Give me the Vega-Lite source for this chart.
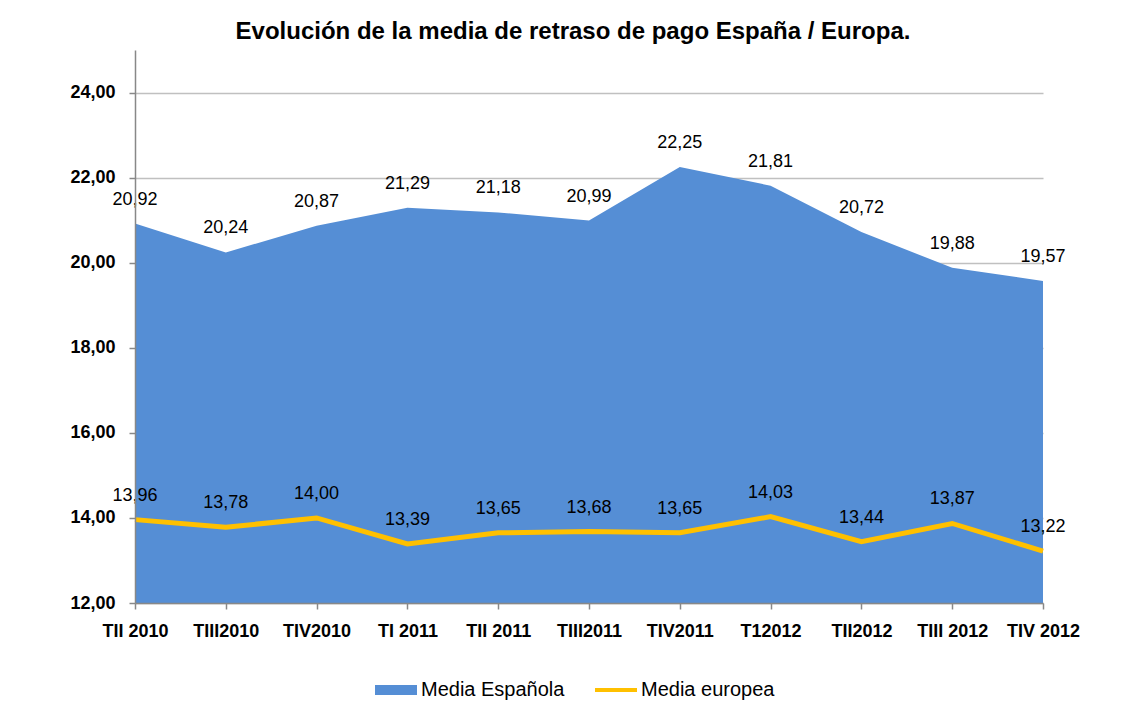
{
  "$schema": "https://vega.github.io/schema/vega-lite/v6.json",
  "autosize": {"type": "none"},
  "padding": {"left": 135, "top": 50, "right": 79, "bottom": 101},
  "width": 908,
  "height": 553,
  "background": "white",
  "title": {
    "text": "Evolución de la media de retraso de pago España / Europa.",
    "font": "Liberation Sans",
    "fontSize": 24,
    "fontWeight": "bold",
    "color": "black",
    "offset": 6,
    "dx": -16
  },
  "data": {
    "values": [
      {"trimestre": "TII 2010", "serie": "Media Española", "valor": 20.92},
      {"trimestre": "TIII2010", "serie": "Media Española", "valor": 20.24},
      {"trimestre": "TIV2010", "serie": "Media Española", "valor": 20.87},
      {"trimestre": "TI 2011", "serie": "Media Española", "valor": 21.29},
      {"trimestre": "TII 2011", "serie": "Media Española", "valor": 21.18},
      {"trimestre": "TIII2011", "serie": "Media Española", "valor": 20.99},
      {"trimestre": "TIV2011", "serie": "Media Española", "valor": 22.25},
      {"trimestre": "T12012", "serie": "Media Española", "valor": 21.81},
      {"trimestre": "TII2012", "serie": "Media Española", "valor": 20.72},
      {"trimestre": "TIII 2012", "serie": "Media Española", "valor": 19.88},
      {"trimestre": "TIV 2012", "serie": "Media Española", "valor": 19.57},
      {"trimestre": "TII 2010", "serie": "Media europea", "valor": 13.96},
      {"trimestre": "TIII2010", "serie": "Media europea", "valor": 13.78},
      {"trimestre": "TIV2010", "serie": "Media europea", "valor": 14.00},
      {"trimestre": "TI 2011", "serie": "Media europea", "valor": 13.39},
      {"trimestre": "TII 2011", "serie": "Media europea", "valor": 13.65},
      {"trimestre": "TIII2011", "serie": "Media europea", "valor": 13.68},
      {"trimestre": "TIV2011", "serie": "Media europea", "valor": 13.65},
      {"trimestre": "T12012", "serie": "Media europea", "valor": 14.03},
      {"trimestre": "TII2012", "serie": "Media europea", "valor": 13.44},
      {"trimestre": "TIII 2012", "serie": "Media europea", "valor": 13.87},
      {"trimestre": "TIV 2012", "serie": "Media europea", "valor": 13.22}
    ]
  },
  "encoding": {
    "x": {
      "field": "trimestre",
      "type": "ordinal",
      "sort": null,
      "scale": {"type": "point", "padding": 0},
      "title": null,
      "axis": {
        "labelAngle": 0,
        "labelFont": "Liberation Sans",
        "labelFontSize": 18,
        "labelFontWeight": "bold",
        "labelColor": "black",
        "labelPadding": 13,
        "domainColor": "#888888",
        "tickColor": "#888888",
        "tickSize": 6,
        "zindex": 1
      }
    }
  },
  "layer": [
    {
      "transform": [{"filter": "datum.serie == 'Media Española'"}],
      "mark": {"type": "area", "color": "#558ED5", "opacity": 1},
      "encoding": {
        "y": {
          "field": "valor",
          "type": "quantitative",
          "scale": {"domain": [12, 25], "zero": false, "nice": false},
          "title": null,
          "axis": {
            "orient": "left",
            "grid": true,
            "gridColor": "#C0C0C0",
            "gridWidth": 1.5,
            "values": [12, 14, 16, 18, 20, 22, 24],
            "domain": false,
            "ticks": false,
            "labels": false,
            "zindex": 0
          }
        },
        "y2": {"datum": 12}
      }
    },
    {
      "transform": [{"filter": "datum.serie == 'Media europea'"}],
      "mark": {"type": "line", "color": "#FFC000", "strokeWidth": 5},
      "encoding": {
        "y": {
          "field": "valor",
          "type": "quantitative",
          "title": null,
          "axis": {
            "orient": "left",
            "grid": false,
            "values": [12, 14, 16, 18, 20, 22, 24],
            "format": ".2f",
            "labelFont": "Liberation Sans",
            "labelFontSize": 18,
            "labelFontWeight": "bold",
            "labelColor": "black",
            "labelPadding": 14,
            "domainColor": "#888888",
            "tickColor": "#888888",
            "tickSize": 6,
            "zindex": 1
          }
        }
      }
    },
    {
      "mark": {
        "type": "text",
        "font": "Liberation Sans",
        "fontSize": 18,
        "color": "black",
        "baseline": "middle",
        "dy": -24
      },
      "encoding": {
        "y": {"field": "valor", "type": "quantitative", "axis": null},
        "text": {"field": "valor", "type": "quantitative", "format": ".2f"}
      }
    },
    {
      "transform": [{"filter": "false"}],
      "mark": {"type": "point", "filled": true, "opacity": 1},
      "encoding": {
        "y": {"field": "valor", "type": "quantitative", "axis": null},
        "color": {
          "field": "serie",
          "type": "nominal",
          "scale": {
            "domain": ["Media Española", "Media europea"],
            "range": ["#558ED5", "#FFC000"]
          },
          "legend": {
            "title": null,
            "orient": "none",
            "direction": "horizontal",
            "legendX": 240,
            "legendY": 619,
            "symbolSize": 1764,
            "symbolStrokeWidth": 0,
            "labelFont": "Liberation Sans",
            "labelFontSize": 20,
            "labelColor": "black",
            "labelOffset": 4,
            "columnPadding": 30
          }
        },
        "shape": {
          "field": "serie",
          "type": "nominal",
          "scale": {
            "domain": ["Media Española", "Media europea"],
            "range": ["M-1,-0.24H1V0.24H-1Z", "M-1,-0.1H1V0.1H-1Z"]
          },
          "legend": {
            "title": null,
            "orient": "none",
            "direction": "horizontal",
            "legendX": 240,
            "legendY": 619,
            "symbolSize": 1764,
            "symbolStrokeWidth": 0,
            "labelFont": "Liberation Sans",
            "labelFontSize": 20,
            "labelColor": "black",
            "labelOffset": 4,
            "columnPadding": 30
          }
        }
      }
    }
  ],
  "resolve": {"axis": {"y": "independent"}},
  "config": {
    "locale": {
      "number": {"decimal": ",", "thousands": ".", "grouping": [3], "currency": ["", " €"]}
    },
    "view": {"stroke": null},
    "axis": {"domainWidth": 1.5, "tickWidth": 1.5}
  }
}
